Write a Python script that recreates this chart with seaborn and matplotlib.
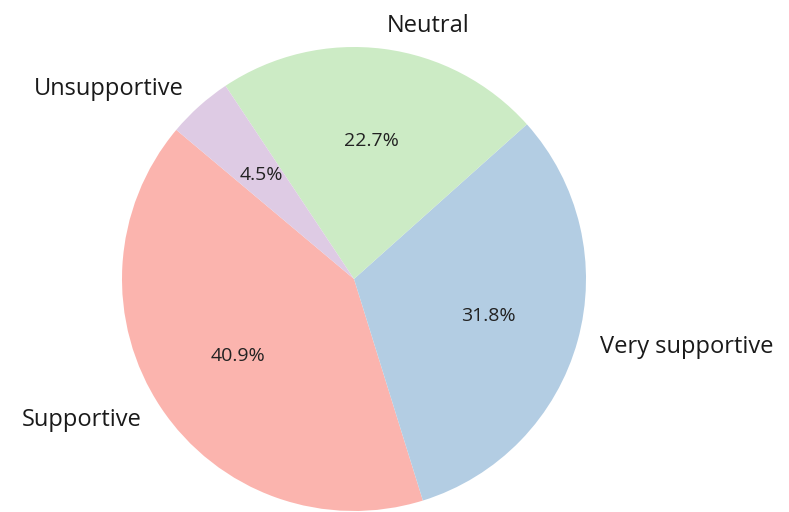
import matplotlib
matplotlib.use("Agg")
import matplotlib.pyplot as plt
import seaborn as sns

# survey answers (counts out of 22 responses)
categories = ["Supportive", "Very supportive", "Neutral", "Unsupportive"]
counts = [9, 7, 5, 1]

sns.set_theme(style="white")
plt.rcParams['font.family'] = ['Open Sans', 'DejaVu Sans']

colors = sns.color_palette("Pastel1", len(categories))

W, H = 789, 512
fig = plt.figure(figsize=(W / 100, H / 100), dpi=100)
cx, cy, r = 354, 279, 232
ax = fig.add_axes([(cx - r) / W, (H - cy - r) / H, 2 * r / W, 2 * r / H])

wedges, texts, autotexts = ax.pie(
    counts, labels=categories, colors=colors, autopct='%1.1f%%',
    startangle=140, counterclock=True,
    wedgeprops={'linewidth': 0, 'edgecolor': 'none'},
    textprops={'fontsize': 17, 'color': '#1a1a1a'},
)
for t in autotexts:
    t.set_fontsize(14)
    t.set_color('#222222')
ax.set_xlim(-1, 1)
ax.set_ylim(-1, 1)
ax.set_aspect('equal')

fig.savefig("out.png", dpi=100, facecolor="white")
